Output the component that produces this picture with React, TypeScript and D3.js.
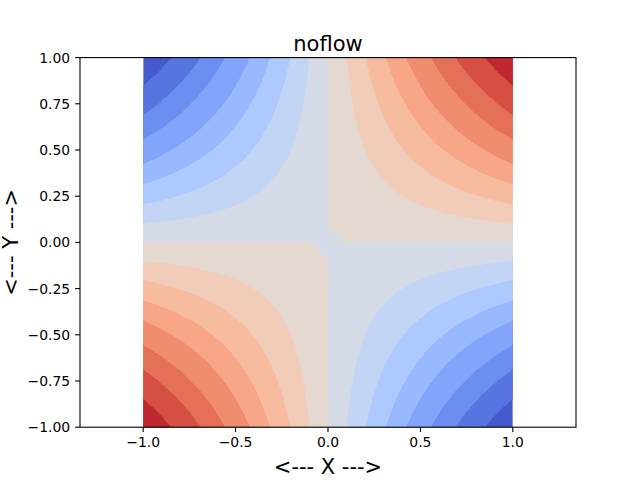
import React from 'react';
import * as d3 from 'd3';

const W = 640;
const H = 480;

// Sampling grid of the plotted field z = x * y
const gridSize = 23;
// Contour level boundaries
const levels = [-0.847, -0.688, -0.556, -0.423, -0.313, -0.204, -0.1, 0, 0.1, 0.204, 0.313, 0.423, 0.556, 0.688, 0.847];
const xTicks = [-1, -0.5, 0, 0.5, 1];
const yTicks = [-1, -0.75, -0.5, -0.25, 0, 0.25, 0.5, 0.75, 1];
const title = 'noflow';
const xLabel = '<--- X --->';
const yLabel = '<--- Y --->';

// matplotlib "coolwarm" colormap control points (33 stops)
const coolwarmStops: [number, number, number][] = [
  [59, 76, 192], [68, 90, 204], [77, 104, 215], [87, 117, 225], [98, 130, 234],
  [108, 142, 241], [119, 154, 247], [130, 165, 251], [141, 176, 254], [152, 185, 255],
  [163, 194, 255], [174, 201, 253], [184, 208, 249], [194, 213, 244], [204, 217, 238],
  [213, 219, 230], [221, 221, 221], [229, 216, 209], [236, 211, 197], [241, 204, 185],
  [245, 196, 173], [247, 187, 160], [247, 177, 148], [247, 166, 135], [244, 154, 123],
  [241, 141, 111], [236, 127, 99], [229, 112, 88], [222, 96, 77], [213, 80, 66],
  [203, 62, 56], [192, 40, 47], [180, 4, 38],
];

function coolwarm(t: number): string {
  const n = coolwarmStops.length - 1;
  const p = Math.max(0, Math.min(1, t)) * n;
  const i = Math.min(n - 1, Math.floor(p));
  const f = p - i;
  const a = coolwarmStops[i];
  const b = coolwarmStops[i + 1];
  const c = a.map((v, k) => Math.round(v + (b[k] - v) * f));
  return `rgb(${c[0]},${c[1]},${c[2]})`;
}

const fmtMinus = (s: string) => s.replace('-', '\u2212');

export default function App() {
  const left = 80;
  const right = 576;
  const top = 57.6;
  const bottom = 427.2;
  const y = d3.scaleLinear().domain([-1, 1]).range([bottom, top]);
  const pxPerUnit = (bottom - top) / 2;
  const halfX = (right - left) / 2 / pxPerUnit;
  const x = d3.scaleLinear().domain([-halfX, halfX]).range([left, right]);

  const step = 2 / (gridSize - 1);
  const gx = d3.range(gridSize).map((j) => -1 + j * step);
  const gy = d3.range(gridSize).map((i) => 1 - i * step);
  const values: number[] = [];
  for (let i = 0; i < gridSize; i++) {
    for (let j = 0; j < gridSize; j++) values.push(gx[j] * gy[i]);
  }
  const thresholds = levels.map((l) => (l === 0 ? 1e-12 : l));
  const contours = d3.contours().size([gridSize, gridSize]).thresholds(thresholds)(values);
  const proj = d3.geoTransform({
    point(px: number, py: number) {
      (this as any).stream.point(x(-1 + (px - 0.5) * step), y(1 - (py - 0.5) * step));
    },
  });
  const path = d3.geoPath(proj as any);
  const nBands = levels.length + 1;
  const bandColor = (i: number) => coolwarm((i + 0.5) / nBands);

  const tickFont = { fontFamily: 'DejaVu Sans', fontSize: 13.9 };
  const labelFont = { fontFamily: 'DejaVu Sans', fontSize: 21 };

  return (
    <svg width={W} height={H} style={{ position: 'absolute', left: 0, top: 0, background: '#fff' }}>
      <defs>
        <clipPath id="dataClip">
          <rect x={x(-1)} y={y(1)} width={x(1) - x(-1)} height={y(-1) - y(1)} />
        </clipPath>
      </defs>
      <rect x={0} y={0} width={W} height={H} fill="#fff" />
      <g clipPath="url(#dataClip)">
        <rect x={x(-1)} y={y(1)} width={x(1) - x(-1)} height={y(-1) - y(1)} fill={bandColor(0)} />
        {contours.map((c, k) => (
          <path
            key={k}
            d={path(c as any) || ''}
            fill={bandColor(k + 1)}
            fillRule="evenodd"
            shapeRendering="crispEdges"
          />
        ))}
      </g>
      <rect x={left} y={top} width={right - left} height={bottom - top} fill="none" stroke="#000" strokeWidth={1.1} />
      {xTicks.map((t) => (
        <g key={'x' + t}>
          <line x1={x(t)} x2={x(t)} y1={bottom} y2={bottom + 4.9} stroke="#000" strokeWidth={1.1} />
          <text x={x(t)} y={bottom + 20} textAnchor="middle" {...tickFont}>
            {fmtMinus(d3.format('.1f')(t))}
          </text>
        </g>
      ))}
      {yTicks.map((t) => (
        <g key={'y' + t}>
          <line x1={left} x2={left - 4.9} y1={y(t)} y2={y(t)} stroke="#000" strokeWidth={1.1} />
          <text x={left - 9.8} y={y(t) + 5} textAnchor="end" {...tickFont}>
            {fmtMinus(d3.format('.2f')(t))}
          </text>
        </g>
      ))}
      <text x={(left + right) / 2} y={51} textAnchor="middle" {...labelFont}>
        {title}
      </text>
      <text x={(left + right) / 2} y={473.5} textAnchor="middle" {...labelFont}>
        {xLabel}
      </text>
      <text transform={`translate(18,${(top + bottom) / 2}) rotate(-90)`} textAnchor="middle" {...labelFont}>
        {yLabel}
      </text>
    </svg>
  );
}
